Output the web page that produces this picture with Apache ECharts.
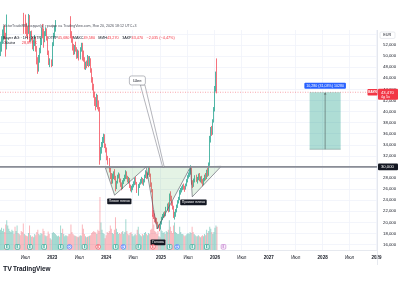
<!DOCTYPE html>
<html><head><meta charset="utf-8">
<script src="https://cdn.jsdelivr.net/npm/echarts@6/dist/echarts.min.js"></script>
<style>html,body{margin:0;padding:0;background:#fff}#c{width:400px;height:300px}</style>
</head><body><div id="c"></div>
<script>
// ---------- DATA ----------
const startWeek = '2022-01-17';   // first weekly bar (Monday)
const weekCount = 364;            // weeks shown on the time axis (to Jan 2029)
const open = [
50.5,52.2,53.0,53.4,54.9,53.6,51.8,56.8,59.6,60.8,
62.0,62.9,64.8,65.2,62.8,62.2,62.9,63.5,61.2,62.3,
61.0,58.2,56.8,55.6,57.0,55.2,54.8,54.2,57.1,53.2,
53.8,53.0,51.8,52.6,53.1,51.3,48.9,47.6,49.5,51.0,
52.8,54.6,54.0,52.8,54.1,54.8,53.4,50.6,49.0,49.2,
48.3,52.2,53.9,55.0,56.1,56.8,57.2,58.0,57.5,58.2,
59.6,56.9,58.0,58.8,60.1,61.0,60.2,59.0,56.6,53.8,
53.1,51.4,51.0,51.5,51.2,50.0,50.7,49.6,51.2,52.0,
50.2,49.3,48.2,48.6,48.5,49.6,48.4,49.4,47.4,45.5,
44.2,43.0,41.6,41.2,42.6,41.0,40.6,31.8,33.2,34.0,
35.0,35.6,33.6,33.0,31.5,30.8,29.4,28.4,27.4,28.4,
28.9,28.0,26.3,27.2,28.3,28.5,27.6,26.8,26.2,27.3,
27.6,28.4,29.0,28.1,27.5,27.8,26.4,26.0,26.2,26.6,
27.1,27.7,27.0,25.7,26.5,27.0,27.5,27.9,27.0,27.5,
28.4,29.0,28.2,28.8,29.6,28.5,26.8,25.8,21.6,21.0,
20.3,20.2,19.9,19.2,19.3,18.9,19.9,20.7,21.2,21.5,
21.3,22.5,23.0,22.2,24.6,24.2,23.3,22.6,21.2,21.4,
22.1,22.9,23.8,24.2,25.5,25.8,26.2,26.5,26.2,26.0,
26.7,27.6,28.3,28.7,29.2,29.7,27.2,26.6,27.6,28.2,
27.6,27.9,28.5,27.7,28.0,27.3,26.9,27.8,28.4,28.0,
29.1,28.6,30.4,35.0,36.8,36.0,38.2,40.4,44.2,45.68];
const high = [
52.6,53.6,54.8,55.4,55.6,54.2,57.5,61.0,61.5,62.5,
63.5,65.5,66.4,66.0,64.2,63.8,65.0,64.0,62.8,62.9,
61.8,59.0,57.8,58.2,57.5,56.0,55.5,57.6,57.4,54.5,
54.6,53.5,53.0,53.8,53.5,51.8,49.8,50.2,51.5,53.2,
55.2,55.8,55.0,54.5,55.2,55.0,53.6,51.0,49.6,49.4,
52.5,54.2,55.5,56.5,57.2,58.0,58.5,58.8,59.2,60.5,
59.8,58.5,59.0,60.4,61.5,61.5,60.6,59.5,57.2,54.5,
53.6,52.2,52.0,52.6,51.6,51.2,51.0,51.6,52.4,52.4,
51.0,49.8,49.0,49.2,50.2,50.0,50.0,49.6,47.8,46.2,
45.0,43.6,42.6,43.2,43.0,42.0,40.8,33.6,34.5,35.4,
36.0,35.9,34.2,33.5,32.0,31.6,29.8,28.9,28.8,29.2,
29.6,28.4,27.5,28.6,29.0,28.8,27.9,27.2,27.6,28.0,
28.6,29.4,29.2,28.4,28.2,28.0,26.8,26.6,26.9,27.4,
28.0,28.2,27.3,26.9,27.2,27.8,28.2,28.0,27.8,28.6,
29.4,29.2,29.0,30.0,30.1,28.8,27.2,26.0,22.2,21.6,
20.9,20.8,20.1,19.6,19.7,20.2,21.0,21.5,21.8,22.0,
22.8,23.4,23.6,25.2,25.6,24.8,23.8,23.0,21.9,22.4,
23.2,24.0,24.6,25.8,26.2,26.5,26.8,27.0,26.6,27.0,
27.8,28.5,29.0,29.6,30.3,29.9,27.6,27.9,28.5,28.6,
28.2,28.8,28.9,28.3,28.4,27.8,28.0,28.6,28.9,29.5,
29.8,30.8,35.6,37.2,37.4,38.6,40.8,44.6,47.2,49.58];
const low = [
50.0,50.8,52.2,52.8,53.0,49.9,51.2,55.5,58.0,59.8,
60.5,62.0,63.5,62.0,61.5,60.5,61.0,60.5,60.0,60.5,
57.8,55.5,54.0,55.0,54.0,53.5,53.0,54.0,52.5,52.6,
52.8,51.2,50.9,51.8,50.8,48.5,46.8,47.2,48.8,50.5,
52.0,53.2,51.5,52.5,53.6,52.8,50.2,48.4,48.0,48.0,
48.2,51.8,53.4,54.4,55.2,56.0,56.5,56.8,56.0,57.8,
55.8,56.0,57.2,58.5,59.5,59.8,58.4,56.0,53.2,52.4,
51.0,50.2,50.3,50.8,49.5,49.6,49.2,49.4,50.8,49.2,
49.0,47.6,47.5,47.8,48.2,48.0,48.2,47.0,45.2,43.8,
42.5,41.0,40.2,40.8,40.4,40.0,30.4,31.2,32.4,33.5,
34.3,33.4,32.6,31.2,30.4,29.0,27.8,26.9,27.0,27.8,
27.6,25.6,26.0,27.0,27.9,27.2,26.4,25.8,26.0,26.9,
27.4,27.8,27.8,27.2,27.0,26.2,25.6,25.4,25.8,26.3,
26.7,26.8,25.3,24.8,26.2,26.8,27.0,26.8,26.6,27.2,
28.0,27.8,27.9,28.5,28.2,26.4,25.4,21.0,20.6,20.0,
19.8,19.6,18.8,18.9,18.4,18.7,19.6,20.4,20.8,20.9,
21.1,22.1,21.8,21.9,23.8,23.0,22.3,20.8,20.5,21.0,
21.8,22.6,23.4,24.0,25.0,25.4,25.8,25.9,25.5,25.9,
26.5,27.2,27.9,28.2,28.6,26.8,26.2,26.4,27.2,27.3,
27.0,27.6,27.4,27.2,27.0,26.5,26.7,27.4,27.6,27.8,
28.2,28.4,30.2,34.4,35.6,35.8,38.0,40.0,43.6,43.27];
const close = [
52.2,53.0,53.4,54.9,53.6,51.8,56.8,59.6,60.8,62.0,
62.9,64.8,65.2,62.8,62.2,62.9,63.5,61.2,62.3,61.0,
58.2,56.8,55.6,57.0,55.2,54.8,54.2,57.1,53.2,53.8,
53.0,51.8,52.6,53.1,51.3,48.9,47.6,49.5,51.0,52.8,
54.6,54.0,52.8,54.1,54.8,53.4,50.6,49.0,49.2,48.3,
52.2,53.9,55.0,56.1,56.8,57.2,58.0,57.5,58.2,59.6,
56.9,58.0,58.8,60.1,61.0,60.2,59.0,56.6,53.8,53.1,
51.4,51.0,51.5,51.2,50.0,50.7,49.6,51.2,52.0,50.2,
49.3,48.2,48.6,48.5,49.6,48.4,49.4,47.4,45.5,44.2,
43.0,41.6,41.2,42.6,41.0,40.6,31.8,33.2,34.0,35.0,
35.6,33.6,33.0,31.5,30.8,29.4,28.4,27.4,28.4,28.9,
28.0,26.3,27.2,28.3,28.5,27.6,26.8,26.2,27.3,27.6,
28.4,29.0,28.1,27.5,27.8,26.4,26.0,26.2,26.6,27.1,
27.7,27.0,25.7,26.5,27.0,27.5,27.9,27.0,27.5,28.4,
29.0,28.2,28.8,29.6,28.5,26.8,25.8,21.6,21.0,20.3,
20.2,19.9,19.2,19.3,18.9,19.9,20.7,21.2,21.5,21.3,
22.5,23.0,22.2,24.6,24.2,23.3,22.6,21.2,21.4,22.1,
22.9,23.8,24.2,25.5,25.8,26.2,26.5,26.2,26.0,26.7,
27.6,28.3,28.7,29.2,29.7,27.2,26.6,27.6,28.2,27.6,
27.9,28.5,27.7,28.0,27.3,26.9,27.8,28.4,28.0,29.1,
28.6,30.4,35.0,36.8,36.0,38.2,40.4,44.2,45.505,43.47];
const volume = [
38,42,36,40,34,48,56,46,40,36,
34,38,36,30,44,36,46,32,30,28,
36,34,50,30,28,27,26,32,46,28,
25,26,24,30,28,34,38,30,28,32,
30,40,36,28,26,27,35,30,22,20,
32,34,32,30,28,26,27,25,46,32,
40,30,26,28,27,26,30,30,48,34,
30,28,27,26,25,24,26,28,27,48,
40,30,26,24,25,26,27,28,32,34,
36,34,33,30,38,36,100,52,38,32,
30,22,28,34,32,36,46,40,32,30,
38,62,40,34,30,32,30,34,36,30,
34,58,36,30,28,32,34,30,26,28,
30,28,38,44,30,28,26,30,28,32,
34,30,28,32,30,38,40,66,48,36,
34,30,36,26,24,38,36,32,34,30,
36,34,38,56,44,36,32,46,52,34,
32,30,30,44,34,30,30,28,26,28,
30,32,30,34,32,44,34,30,28,26,
26,28,26,24,26,28,26,30,28,38,
32,36,44,40,34,30,34,42,46,44];
const priceTickMin = 16, priceTickMax = 54, priceTickStep = 2;
const halfYearLabel = 'Июл';
const eventDates = ['2022-03-01','2022-05-12','2022-08-04','2022-11-08','2023-02-28','2023-04-28','2023-08-08','2023-11-08','2024-03-05','2024-04-26','2024-08-06','2024-11-12','2025-03-05','2025-04-25','2025-08-06','2025-11-11','2026-03-04'];
const eventKinds = ['E','E','E','E','E','D','E','EM','E','D','E','EM','E','D','E','E','EF'];
// drawings (date, price)
const neckPrice = 30.0;
const leftShoulder = [['2023-12-27',29.85],['2024-02-27',24.9],['2024-09-27',30.0]];
const headShape = [['2024-09-27',30.0],['2024-12-10',18.8],['2025-07-24',30.0]];
const rightShoulder = [['2025-07-24',30.0],['2025-08-05',24.6],['2026-02-16',30.1]];
const neckCallout = {text:'Шея', at:['2024-07-30',45.6], tip:['2025-01-22',30.0]};
const tags = [
  {text:'Левое плечо', at:['2024-03-30',23.8]},
  {text:'Правое плечо', at:['2025-08-13',23.6]},
  {text:'Голова', at:['2024-12-16',16.4]}
];
const rangeBox = {from:'2027-10-07', to:'2028-05-04', bottom:33.19, top:43.47, text:'10,280 (31,03%) 10280'};
const header1 = 'VictorTrade888 создал(а) график на TradingView.com, Янв 20, 2026 18:12 UTC+3';
const symbolName = 'Bayer AG · 1Н · XETR';
const ohlcLabels = ['ОТКР','МАКС','МИН','ЗАКР'];
const changeText = '−2,035 (−4,47%)';
const volLabel = 'Объём', volValue = '28,897 K';
const tickerTag = 'BAYN', countdown = '4д 5ч';

// ---------- LAYOUT ----------
const FONT = '"Liberation Sans", Arial, sans-serif';
const paneL = 0, paneT = 30, paneR = 377, paneB = 250;
const y52 = 45, y16 = 244.5;
const PX = (y16 - y52) / 36;               // pixels per EUR
const priceMin = 16 - (paneB - y16) / PX;
const priceMax = 52 + (y52 - paneT) / PX;
const axTop = y52 - (priceTickMax - 52) * PX;
const axH = (priceTickMax - priceTickMin) * PX;
const volMax = 415;
const UP = '#089981', DOWN = '#f23645';

const t0 = Date.parse(startWeek);
const cats = [];
for (let i = 0; i < weekCount; i++) cats.push(new Date(t0 + i * 6048e5).toISOString().slice(0,10));
const labelIdx = new Set();
for (let i = 1; i < weekCount; i++) {
  const d = new Date(t0 + i * 6048e5), p = new Date(t0 + (i-1) * 6048e5);
  if (d.getUTCMonth() !== p.getUTCMonth() && (d.getUTCMonth() === 0 || d.getUTCMonth() === 6)) labelIdx.add(i);
}
const wk = d => (Date.parse(d) - t0) / 6048e5;
const fmt = (v, n) => v.toFixed(n).replace('.', ',');

const candles = open.map((o, i) => [o, close[i], low[i], high[i]]);
const vols = volume.map((v, i) => ({value: v, itemStyle: {color: close[i] >= open[i] ? 'rgba(8,153,129,0.38)' : 'rgba(242,54,69,0.36)'}}));

const shapes = [
  {type:'poly', pts: leftShoulder},
  {type:'poly', pts: headShape},
  {type:'poly', pts: rightShoulder},
  {type:'hline', price: close[close.length-1], color:'rgba(242,54,69,0.55)', width:0.8, dash:[1,1.5]},
  {type:'hline', price: neckPrice, color:'#8a8d96', width:1.6},
  {type:'callout'},
  {type:'tag', i:0},{type:'tag', i:1},{type:'tag', i:2},
  {type:'range'},
  {type:'events'},
  {type:'axisTags'}
];

function renderItem(params, api) {
  const s = shapes[params.dataIndex];
  const cs = params.coordSys;
  const X = f => { const i = Math.floor(f), r = f - i; const a = api.coord([i, 30])[0], b = api.coord([i+1, 30])[0]; return a + (b - a) * r; };
  const P = (d, p) => [X(wk(d)), api.coord([0, p])[1]];
  const Y = p => api.coord([0, p])[1];
  const kids = [];
  if (s.type === 'poly') {
    kids.push({type:'polygon', shape:{points: s.pts.map(q => P(q[0], q[1]))},
      style:{fill:'rgba(76,175,80,0.15)', stroke:'#50535e', lineWidth:0.6}});
  } else if (s.type === 'hline') {
    kids.push({type:'line', shape:{x1: cs.x, y1: Y(s.price), x2: cs.x + cs.width, y2: Y(s.price)},
      style:{stroke: s.color, lineWidth: s.width, lineDash: s.dash || null}});
  } else if (s.type === 'callout') {
    const c = P(neckCallout.at[0], neckCallout.at[1]);
    const t = P(neckCallout.tip[0], neckCallout.tip[1]);
    const by = c[1] + 4.5;
    kids.push({type:'polygon', shape:{points:[[c[0]+3, by],[t[0]-0.8, t[1]],[t[0]+0.8, t[1]],[c[0]+7.5, by]]},
      style:{fill:'rgba(255,255,255,0.6)', stroke:'#6a6d78', lineWidth:0.5}});
    kids.push({type:'rect', shape:{x:c[0]-8, y:c[1]-4.5, width:16, height:9, r:2},
      style:{fill:'#fff', stroke:'#8a8d96', lineWidth:0.6}});
    kids.push({type:'text', style:{text: neckCallout.text, x:c[0], y:c[1], align:'center', verticalAlign:'middle',
      fontSize:4, fontFamily:FONT, fill:'#131722'}});
  } else if (s.type === 'tag') {
    const tg = tags[s.i]; const c = P(tg.at[0], tg.at[1]);
    kids.push({type:'text', style:{text: tg.text, x:c[0], y:c[1], align:'center', verticalAlign:'middle',
      fontSize:3.6, fontFamily:FONT, fill:'#fff', backgroundColor:'#131722', padding:[1,1.6,0.8,1.6], borderRadius:0.8}});
  } else if (s.type === 'range') {
    const a = P(rangeBox.from, rangeBox.top), b = P(rangeBox.to, rangeBox.bottom);
    kids.push({type:'rect', shape:{x:a[0], y:a[1], width:b[0]-a[0], height:b[1]-a[1]},
      style:{fill:'rgba(8,153,129,0.33)', stroke:null}});
    kids.push({type:'line', shape:{x1:a[0], y1:b[1], x2:b[0], y2:b[1]}, style:{stroke:'#7f9c97', lineWidth:0.6}});
    const mx = (a[0] + b[0]) / 2;
    kids.push({type:'line', shape:{x1:mx, y1:b[1], x2:mx, y2:a[1]+1}, style:{stroke:'#5d6e6b', lineWidth:0.7}});
    kids.push({type:'polygon', shape:{points:[[mx-1.3, a[1]+2.2],[mx, a[1]+0.3],[mx+1.3, a[1]+2.2]]}, style:{fill:'#5d6e6b'}});
    kids.push({type:'text', style:{text: rangeBox.text, x:mx, y:a[1]-6.5, align:'center', verticalAlign:'middle',
      fontSize:3.6, fontFamily:FONT, fill:'#fff', backgroundColor:'#2962ff', padding:[1.2,2,1,2], borderRadius:1}});
  } else if (s.type === 'events') {
    const yb = cs.y + cs.height - 3.2;
    eventDates.forEach((d, i) => {
      const k = eventKinds[i]; const x = X(wk(d));
      const col = k === 'D' ? '#2962ff' : k === 'EM' ? '#f23645' : k === 'EF' ? '#ba68c8' : '#089981';
      kids.push({type:'rect', shape:{x:x-2.3, y:yb-2.3, width:4.6, height:4.6, r: k === 'D' || k === 'EM' ? 2.3 : 1},
        style:{fill:'#fff', stroke:col, lineWidth:0.6}});
      kids.push({type:'text', style:{text: k[0], x:x, y:yb+0.2, align:'center', verticalAlign:'middle',
        fontSize:2.8, fontFamily:FONT, fill:col, fontWeight:'bold'}});
    });
  } else if (s.type === 'axisTags') {
    const xr = cs.x + cs.width; const last = close[close.length-1];
    const yl = Y(last);
    kids.push({type:'rect', shape:{x:xr+1, y:yl-3.6, width:20, height:11.2, r:1}, style:{fill:DOWN}});
    kids.push({type:'text', style:{text: fmt(last,3), x:xr+4, y:yl+0.2, verticalAlign:'middle', fontSize:4.2, fontFamily:FONT, fill:'#fff'}});
    kids.push({type:'text', style:{text: countdown, x:xr+4, y:yl+4.8, verticalAlign:'middle', fontSize:3.6, fontFamily:FONT, fill:'#fff'}});
    kids.push({type:'rect', shape:{x:xr-9.5, y:yl-3.2, width:10, height:6.4, r:0.8}, style:{fill:DOWN}});
    kids.push({type:'text', style:{text: tickerTag, x:xr-4.5, y:yl+0.2, align:'center', verticalAlign:'middle', fontSize:3.2, fontFamily:FONT, fill:'#fff', fontWeight:'bold'}});
    const yn = Y(neckPrice);
    kids.push({type:'rect', shape:{x:xr+1, y:yn-3.4, width:20, height:6.8, r:1}, style:{fill:'#131722'}});
    kids.push({type:'text', style:{text: fmt(neckPrice,3), x:xr+4, y:yn+0.2, verticalAlign:'middle', fontSize:4.2, fontFamily:FONT, fill:'#fff'}});
  }
  return {type:'group', children: kids};
}

const chart = echarts.init(document.getElementById('c'), null, {renderer:'canvas', width:400, height:300});
chart.setOption({
  animation: false,
  backgroundColor: '#fff',
  grid: [
    {left: paneL, top: paneT, width: paneR - paneL, height: paneB - paneT, outerBoundsMode:'none', containLabel:false},
    {left: paneL, top: axTop, width: paneR - paneL, height: axH, outerBoundsMode:'none', containLabel:false}
  ],
  xAxis: [
    {type:'category', gridIndex:0, data: cats, boundaryGap:true,
      axisLine:{show:true, lineStyle:{color:'#e0e3eb', width:0.8}}, axisTick:{show:false},
      axisLabel:{interval:(i) => labelIdx.has(i), margin:5, fontSize:4.5, fontFamily:FONT, color:'#131722',
        formatter:(v) => { const d = new Date(v); return d.getUTCMonth() === 0 ? '{y|' + d.getUTCFullYear() + '}' : halfYearLabel; },
        rich:{y:{fontSize:4.5, fontFamily:FONT, fontWeight:'bold', color:'#131722'}}},
      splitLine:{show:true, interval:(i) => labelIdx.has(i), lineStyle:{color:'#f0f3fa', width:0.8}}},
    {type:'value', gridIndex:1, show:false, min:0, max:1}
  ],
  yAxis: [
    {type:'value', gridIndex:0, min: priceMin, max: priceMax, show:false, splitLine:{show:false}},
    {type:'value', gridIndex:1, min: priceTickMin, max: priceTickMax, interval: priceTickStep, position:'right',
      axisLine:{show:false}, axisTick:{show:false},
      axisLabel:{margin:6, fontSize:4.3, fontFamily:FONT, color:'#131722',
        formatter:(v) => (v >= 53 ? '' : fmt(v, 3))},
      splitLine:{show:true, lineStyle:{color:'#f0f3fa', width:0.8}}},
    {type:'value', gridIndex:0, min:0, max: volMax, show:false, splitLine:{show:false}}
  ],
  series: [
    {type:'bar', xAxisIndex:0, yAxisIndex:2, data: vols, barWidth:1, silent:true, z:1},
    {type:'candlestick', xAxisIndex:0, yAxisIndex:0, data: candles, barWidth:1.3, clip:true, z:3,
      itemStyle:{color:UP, color0:DOWN, borderColor:UP, borderColor0:DOWN, borderWidth:0.7}},
    {type:'custom', xAxisIndex:0, yAxisIndex:0, data: shapes.map((s, i) => [i, 30]), renderItem, clip:false, z:4, silent:true}
  ],
  graphic: [
    {type:'line', shape:{x1:paneR+0.5, y1:paneT, x2:paneR+0.5, y2:265}, style:{stroke:'#e0e3eb', lineWidth:0.8}, z:1},
    {type:'text', left:3, top:23.5, style:{text: header1, fontSize:3.6, fontFamily:FONT, fill:'#4a4e59'}, z:10},
    {type:'text', left:3, top:31.5, z:10, style:{
      text: '{d|' + symbolName + '}  {d|' + ohlcLabels[0] + '}{r|' + fmt(open[open.length-1],3) + '} {d|' + ohlcLabels[1] + '}{r|' + fmt(high[high.length-1],3) +
        '} {d|' + ohlcLabels[2] + '}{r|' + fmt(low[low.length-1],3) + '} {d|' + ohlcLabels[3] + '}{r|' + fmt(close[close.length-1],3) + '} {r|' + changeText + '}',
      rich:{d:{fontSize:3.8, fontFamily:FONT, fill:'#131722'}, r:{fontSize:3.8, fontFamily:FONT, fill:DOWN}}}},
    {type:'text', left:3, top:37, z:10, style:{text:'{d|' + volLabel + '}  {r|' + volValue + '}',
      rich:{d:{fontSize:3.8, fontFamily:FONT, fill:'#131722'}, r:{fontSize:3.8, fontFamily:FONT, fill:DOWN}}}},
    {type:'rect', shape:{x:380, y:32, width:15, height:6.4, r:1.2}, style:{fill:'#fff', stroke:'#d1d4dc', lineWidth:0.5}, z:10},
    {type:'text', left:383.2, top:33.2, style:{text:'EUR', fontSize:3.8, fontFamily:FONT, fill:'#131722'}, z:11},
    {type:'text', left:3, top:266, style:{text:'TV', fontSize:7, fontFamily:FONT, fontWeight:'bold', fill:'#131722'}, z:10},
    {type:'text', left:13, top:266.3, style:{text:'TradingView', fontSize:6.4, fontFamily:FONT, fontWeight:'bold', fill:'#131722'}, z:10}
  ]
});
</script></body></html>
